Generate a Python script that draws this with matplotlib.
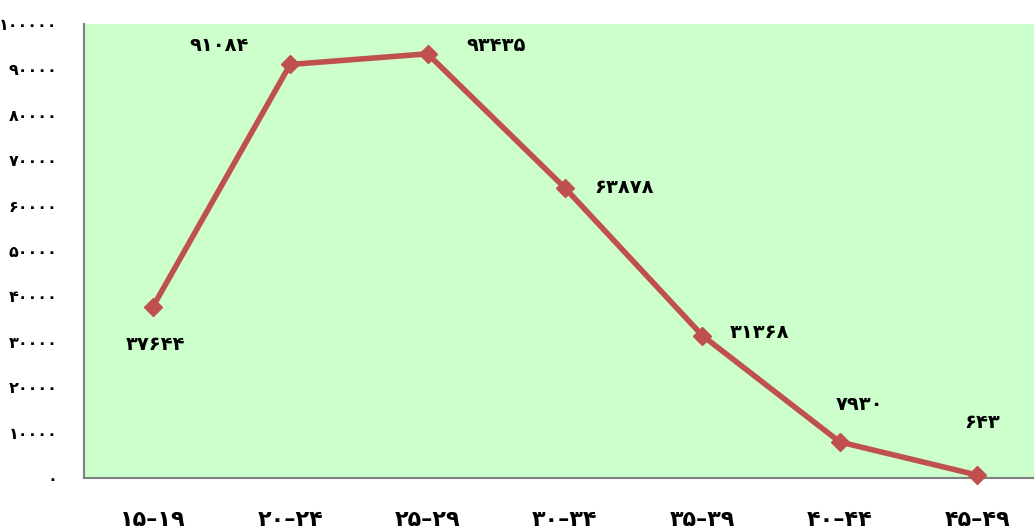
import matplotlib
matplotlib.use('Agg')
import matplotlib.pyplot as plt

# age groups and counts
age_groups = ['۱۵–۱۹', '۲۰–۲۴', '۲۵–۲۹', '۳۰–۳۴', '۳۵–۳۹', '۴۰–۴۴', '۴۵–۴۹']
counts = [37644, 91084, 93435, 63878, 31368, 7930, 643]
yticks = [0, 10000, 20000, 30000, 40000, 50000, 60000, 70000, 80000, 90000, 100000]

# label offsets in pixels, one per point
label_offsets = [(3, -37), (-71, 19), (69, 8), (59, 0), (57, 3), (20, 37), (5, 53)]

fa_digits = str.maketrans('0123456789', '۰۱۲۳۴۵۶۷۸۹')

def to_fa(n):
    return str(n).translate(fa_digits)

plt.rcParams['font.family'] = ['DejaVu Sans']

fig = plt.figure(figsize=(10.34, 5.31), dpi=100)
ax = fig.add_axes([84 / 1034, 53 / 531, 962 / 1034, 454 / 531])
ax.set_facecolor('#CCFFCC')

x = list(range(len(age_groups)))
ax.plot(x, counts, color='#C0504D', linewidth=4, marker='D', markersize=9,
        clip_on=False, zorder=3)

for i, (v, off) in enumerate(zip(counts, label_offsets)):
    ax.annotate(to_fa(v), (i, v), xytext=off, textcoords='offset pixels',
                ha='center', va='center', fontsize=14, fontweight='bold')

ax.set_xlim(-0.5, 6.5)
ax.set_ylim(0, 100000)
ax.set_xticks(x)
ax.set_xticklabels(age_groups, fontsize=16, fontweight='bold')
ax.set_yticks(yticks)
ax.set_yticklabels([to_fa(t) for t in yticks], fontsize=11.5, fontweight='bold')
ax.tick_params(axis='y', length=0, pad=19)
ax.tick_params(axis='x', length=0, pad=23)

for side in ['top', 'right']:
    ax.spines[side].set_visible(False)
for side in ['left', 'bottom']:
    ax.spines[side].set_color('#808080')
    ax.spines[side].set_linewidth(1.5)

fig.savefig('out.png', dpi=100)
